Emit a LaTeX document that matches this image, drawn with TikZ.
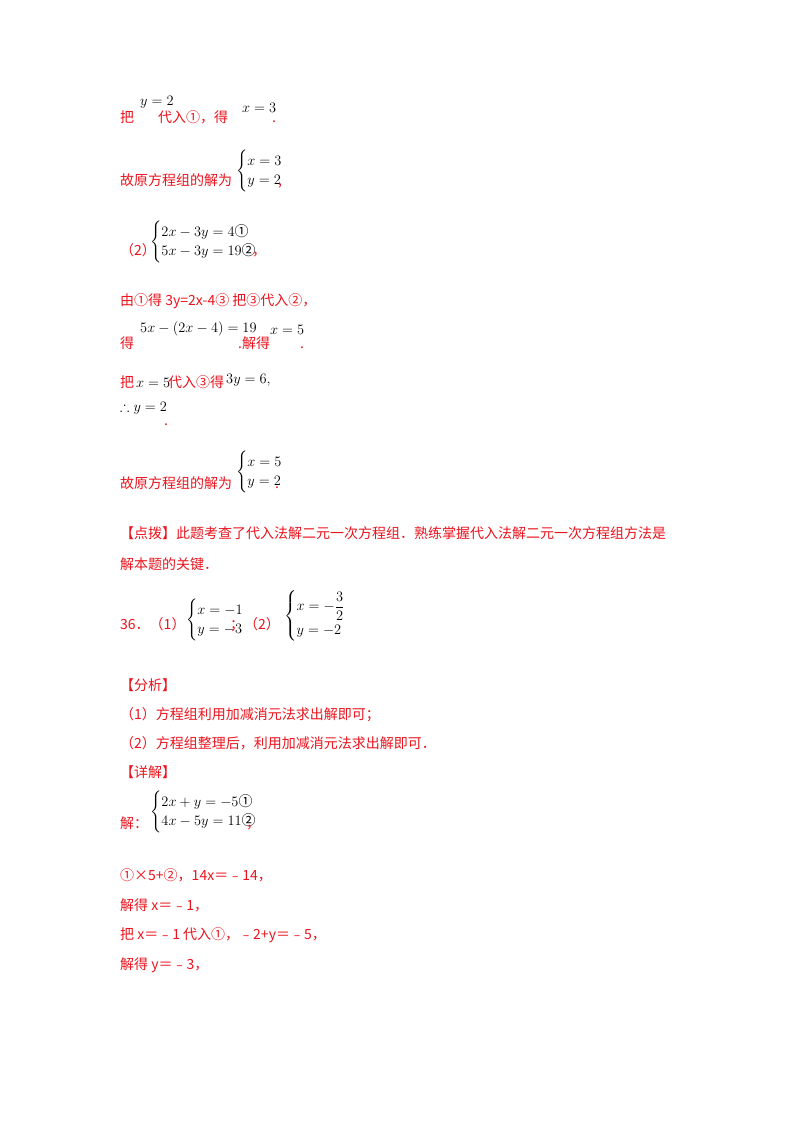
\documentclass[tikz,border=0pt]{standalone}
\usepackage{amsmath,amssymb}
\usepackage{fontspec}
\setmainfont{Liberation Serif}
\newfontfamily\cjk{Noto Sans CJK SC}
\definecolor{rd}{RGB}{235,20,30}
\tikzset{zh/.style={anchor=base west,inner sep=0pt,text=rd,font=\cjk\fontsize{14}{17}\selectfont},
mt/.style={anchor=base west,inner sep=0pt,text=black,font=\fontsize{14}{17}\selectfont},
sys/.style={anchor=west,inner sep=0pt,text=black,font=\fontsize{14}{17}\selectfont}}
\newcommand{\cs}[1]{\left\{\renewcommand{\arraystretch}{1.15}\begin{array}{@{}l@{}}#1\end{array}\right.}
\begin{document}
\begin{tikzpicture}[x=1pt,y=-1pt]
\useasboundingbox[fill=white] (0,0) rectangle (800,1132);
\node[zh] (a1) at (120,122) {把};
\node[mt] (a2) at (140,105) {$y=2$};
\node[zh] (a3) at (158,122) {代入①，得};
\node[mt] (a4) at (242,112) {$x=3$};
\node[zh] (a5) at (272,122) {.};
\node[zh] (b1) at (120,185) {故原方程组的解为};
\node[sys] (b2) at (236,171) {$\cs{x=3\\ y=2}$};
\node[zh] (b3) at (278,185) {,};
\node[zh] (c1) at (120,255) {（2）};
\node[sys] (c2) at (150,242) {$\cs{2x-3y=4\mbox{\cjk ①}\\ 5x-3y=19\mbox{\cjk ②}}$};
\node[zh] (c3) at (252,255) {，};
\node[zh] (d1) at (120,305) {由①得 3y=2x-4③ 把③代入②，};
\node[zh] (e1) at (120,348) {得};
\node[mt] (e2) at (140,332) {$5x-(2x-4)=19$};
\node[zh] (e3) at (238,348) {.解得};
\node[mt] (e4) at (270,334) {$x=5$};
\node[zh] (e5) at (300,348) {.};
\node[zh] (f1) at (120,387) {把};
\node[mt] (f2) at (136,387) {$x=5$};
\node[zh] (f3) at (168,387) {代入③得};
\node[mt] (f4) at (226,383) {$3y=6,$};
\node[mt] (g1) at (120,411) {$\therefore y=2$};
\node[zh] (g2) at (164,425) {.};
\node[zh] (h1) at (120,488) {故原方程组的解为};
\node[sys] (h2) at (236,472) {$\cs{x=5\\ y=2}$};
\node[zh] (h3) at (275,488) {.};
\node[zh] (i1) at (120,538) {【点拨】此题考查了代入法解二元一次方程组．熟练掌握代入法解二元一次方程组方法是};
\node[zh] (i2) at (120,569) {解本题的关键．};
\node[zh] (j1) at (120,629) {36．（1）};
\node[sys] (j2) at (186,620) {$\cs{x=-1\\ y=-3}$};
\node[zh] (j3) at (230,629) {；（2）};
\node[sys] (j4) at (284,616) {$\cs{x=-\dfrac{3}{2}\\ y=-2}$};
\node[zh] (k1) at (120,690) {【分析】};
\node[zh] (k2) at (120,719) {（1）方程组利用加减消元法求出解即可；};
\node[zh] (k3) at (120,748) {（2）方程组整理后，利用加减消元法求出解即可．};
\node[zh] (k4) at (120,777) {【详解】};
\node[zh] (l1) at (120,828) {解：};
\node[sys] (l2) at (150,812) {$\cs{2x+y=-5\mbox{\cjk ①}\\ 4x-5y=11\mbox{\cjk ②}}$};
\node[zh] (l3) at (246,828) {，};
\node[zh] (m1) at (120,880) {①×5+②，14\textit{x}＝﹣14，};
\node[zh] (m2) at (120,910) {解得 \textit{x}＝﹣1，};
\node[zh] (m3) at (120,939) {把 \textit{x}＝﹣1 代入①，﹣2+\textit{y}＝﹣5，};
\node[zh] (m4) at (120,969) {解得 \textit{y}＝﹣3，};
\end{tikzpicture}
\end{document}
